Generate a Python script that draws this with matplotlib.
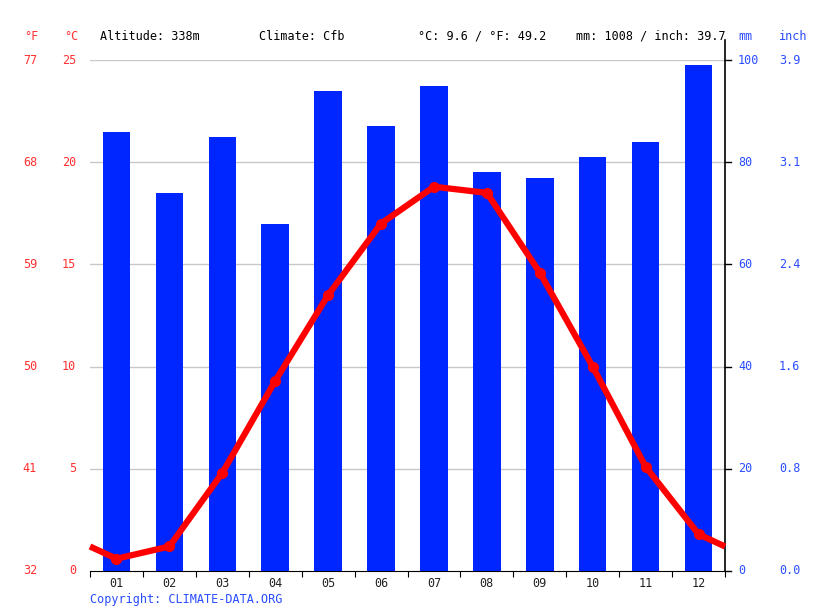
import matplotlib.pyplot as plt
import numpy as np

months = ['01', '02', '03', '04', '05', '06', '07', '08', '09', '10', '11', '12']
rain_mm = [86, 74, 85, 68, 94, 87, 95, 78, 77, 81, 84, 99]
temp_c = [0.6, 1.2, 4.8, 9.3, 13.5, 17.0, 18.8, 18.5, 14.6, 10.0, 5.1, 1.8]
c_ticks = [0, 5, 10, 15, 20, 25]
f_labels = ['32', '41', '50', '59', '68', '77']
mm_ticks = [0, 20, 40, 60, 80, 100]
inch_labels = ['0.0', '0.8', '1.6', '2.4', '3.1', '3.9']

RED = '#ff0000'
LRED = '#ff3030'
BLUE = '#0026ff'
LBLUE = '#2a4dff'
FONT = 'DejaVu Sans Mono'
plt.rcParams['font.family'] = FONT

W, H = 815, 611
fig = plt.figure(figsize=(W / 100, H / 100), dpi=100)
x0, x1, ytop, ybot = 90, 725, 60, 571
ax = fig.add_axes([x0 / W, (H - ybot) / H, (x1 - x0) / W, (ybot - ytop) / H])
ax2 = ax.twinx()

x = np.arange(12)
# bars on the mm axis
ax2.bar(x, rain_mm, width=0.52, color=BLUE, zorder=2)
ax2.set_ylim(0, 100)
ax.set_ylim(0, 25)
ax.set_xlim(-0.5, 11.5)

# horizontal grid lines
for c in c_ticks[1:]:
    ax.axhline(c, color='#c8c8c8', lw=1, zorder=0)

# temperature line, wrapped round at both ends
edge = (temp_c[0] + temp_c[-1]) / 2
tx = np.concatenate([[-0.5], x, [11.5]])
ty = np.concatenate([[edge], temp_c, [edge]])
ax2.plot(tx, np.array(ty) * 4, color=RED, lw=4.5, solid_capstyle='butt', zorder=3, clip_on=False)
ax2.plot(x, np.array(temp_c) * 4, 'o', color=RED, ms=7, zorder=4)

for a in (ax, ax2):
    for s in ('top', 'left', 'right'):
        a.spines[s].set_visible(False)
    a.set_yticks([])
ax2.spines['bottom'].set_visible(False)
ax.spines['bottom'].set_color('black')

# month ticks between months, labels under centers
ax.set_xticks(np.arange(-0.5, 12, 1))
ax.set_xticklabels([])
ax.tick_params(axis='x', length=4, direction='out', color='black')
for i, m in enumerate(months):
    ax.text(i, -0.27, m, ha='center', va='top', fontsize=8.5, color='#222222')

# right spine extending above the plot
ax.plot([1, 1], [0, (ybot - 40) / (ybot - ytop)], transform=ax.transAxes,
        color='black', lw=1.2, clip_on=False)
for v in mm_ticks:
    yy = v / 100
    ax.plot([1, 1 + 6 / (x1 - x0)], [yy, yy], transform=ax.transAxes,
            color='black', lw=1, clip_on=False)

def fy(px):
    return 1 - px / H

def fx(px):
    return px / W

for c, f in zip(c_ticks, f_labels):
    py = ybot - c / 25 * (ybot - ytop)
    fig.text(fx(76), fy(py), str(c), ha='right', va='center', fontsize=8.5, color=LRED)
    fig.text(fx(37), fy(py), f, ha='right', va='center', fontsize=8.5, color=LRED)
for m, inch in zip(mm_ticks, inch_labels):
    py = ybot - m / 100 * (ybot - ytop)
    fig.text(fx(738), fy(py), str(m), ha='left', va='center', fontsize=8.5, color=LBLUE)
    fig.text(fx(779), fy(py), inch, ha='left', va='center', fontsize=8.5, color=LBLUE)

hy = fy(36)
fig.text(fx(24), hy, '°F', va='center', fontsize=8.5, color=LRED)
fig.text(fx(64), hy, '°C', va='center', fontsize=8.5, color=LRED)
fig.text(fx(100), hy, 'Altitude: 338m', va='center', fontsize=8.5, color='black')
fig.text(fx(259), hy, 'Climate: Cfb', va='center', fontsize=8.5, color='black')
fig.text(fx(418), hy, '°C: 9.6 / °F: 49.2', va='center', fontsize=8.5, color='black')
fig.text(fx(576), hy, 'mm: 1008 / inch: 39.7', va='center', fontsize=8.5, color='black')
fig.text(fx(738), hy, 'mm', va='center', fontsize=8.5, color=LBLUE)
fig.text(fx(779), hy, 'inch', va='center', fontsize=8.5, color=LBLUE)
fig.text(fx(90), fy(600), 'Copyright: CLIMATE-DATA.ORG', va='center', fontsize=8.5, color=LBLUE)

fig.savefig('out.png', dpi=100)
